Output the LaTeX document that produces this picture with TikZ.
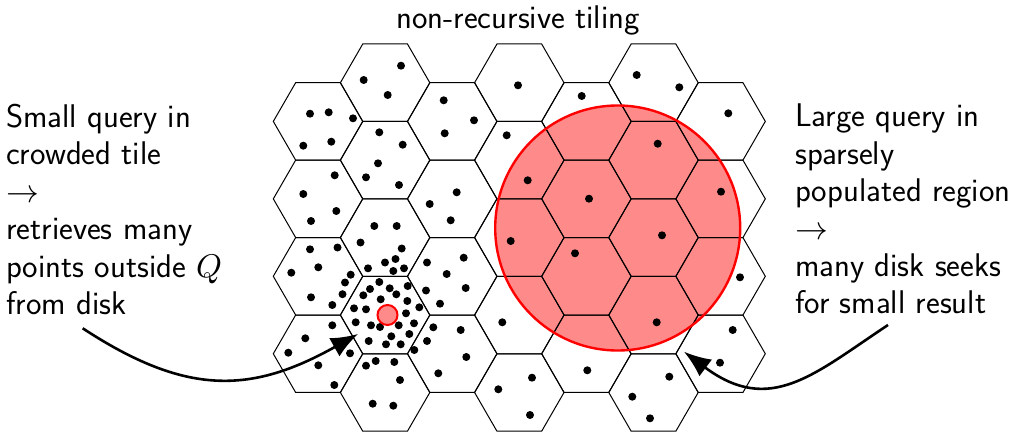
\RequirePackage{fix-cm}
\documentclass[tikz,border=0pt]{standalone}
\usetikzlibrary{arrows.meta}
\DeclareFontFamily{OT1}{cmss}{\hyphenchar\font45 }
\DeclareFontShape{OT1}{cmss}{m}{n}{<->cmss10}{}
\DeclareFontShape{OML}{cmm}{m}{it}{<->cmmi10}{}
\DeclareFontShape{OMS}{cmsy}{m}{n}{<->cmsy10}{}
\definecolor{qpink}{RGB}{255,138,138}
\begin{document}
\begin{tikzpicture}[x=1pt,y=-1pt,
  hexline/.style={line width=1pt,black},
  pt/.style={fill=black},
  lbl/.style={font=\fontsize{32.8}{37.4}\selectfont\sffamily,inner sep=0pt},
  callout/.style={line width=2.6pt,-{Latex[length=27pt,width=21pt]}},
  qborder/.style={draw=red,line width=2.4pt}]
\useasboundingbox (0,0) rectangle (1017,433);
% big query disk (fill)
\fill[qpink] (617.7,228) circle[radius=122.5];
% hexagonal tiling
\foreach \c in {0,...,6}{
  \pgfmathsetmacro{\cx}{318+67.1*\c}
  \ifodd\c
    \foreach \r in {0,...,4}{
      \pgfmathsetmacro{\cy}{82.7+77.45*\r}
      \draw[hexline] (\cx,\cy) +(0:44.7) -- +(60:44.7) -- +(120:44.7) -- +(180:44.7) -- +(240:44.7) -- +(300:44.7) -- cycle;
    }
  \else
    \foreach \r in {0,...,3}{
      \pgfmathsetmacro{\cy}{121.4+77.45*\r}
      \draw[hexline] (\cx,\cy) +(0:44.7) -- +(60:44.7) -- +(120:44.7) -- +(180:44.7) -- +(240:44.7) -- +(300:44.7) -- cycle;
    }
  \fi
}
% points
\foreach \p in {
 (310,113.7),(328.7,112.3),(353,118.3),(303.3,145.7),(331.3,141.7),
 (401,65.7),(363.7,80),(387.7,95),
 (379.3,132.3),(402.7,144.7),(378,163.3),(366,177.3),(399,185),
 (443.7,100.3),(474,120.3),(444.7,133.3),
 (334.7,175.3),(303.3,194),(336.3,211),(311,221),
 (456.7,192.3),(429.7,204),(450.7,220.3),
 (374.3,226),(396.7,226),(360.5,242.5),(401.7,248.5),(385,262.5),(395.5,259),(368,268.3),(393.3,271),(404,268.3),
 (337.5,247.5),(310,249.3),(291.3,272.7),(318.3,267.3),(350.7,274.7),(345,282.5),(342.5,294.2),(311,297.3),(332.3,305),
 (379.3,282),(370,289),(389.7,288.3),(396.3,294.3),(407.7,286),(363.3,295.3),(380.7,299.3),(407.3,301),(419.3,307.3),
 (354,308.3),(366,309.3),(384,310),(406,313.3),(355.7,322.3),(371,325.3),(380,327),(398.7,325.3),(414,323.3),
 (409.3,334),(391.3,336.3),(368.7,341),(386,344.3),(400.7,344.3),(414.3,350),
 (427,262.5),(463.7,257.7),(446.7,274),(465.7,288),(426,290.5),(440,303.7),
 (433.3,327.3),(460.7,330),(427,341),(466.3,357),(438.3,373.3),
 (332.3,325.3),(305.3,338.3),(288.3,352.7),(350,353.3),(318.3,365.3),(334.3,385),
 (366,365.7),(375.7,361),(394.3,362),(400,380),(372.7,403.7),(393.3,405.7),
 (518,85.3),(506.7,135.3),(527.7,180.3),(510.7,241),(502.3,322.3),(532,377.7),(498.3,389.3),(530,415),
 (581.7,96),(589,198.7),(575,253.3),(587.3,370.3),
 (636.7,75),(679.3,87.3),(657.7,143.7),(662,235.3),(656.7,322.3),(669.3,376.7),(632.3,396.7),(650,418.3),
 (728.3,113.3),(721,191.7),(740,277.3),(732.7,330),(720,362.7)}
  \fill[pt] \p circle[radius=4];
% big query disk (border)
\draw[qborder] (617.7,228) circle[radius=122.5];
% small query disk
\draw[qborder,fill=qpink,line width=2pt] (387.5,315) circle[radius=10];
% labels
\node[lbl,anchor=base] (title) at (518,29) {non-recursive tiling};
\node[lbl,anchor=north west,align=left] (left) at (6,104) {Small query in\\crowded tile\\$\rightarrow$\\retrieves many\\points outside $Q$\\from disk};
\node[lbl,anchor=north west,align=left] (right) at (795,104) {Large query in\\sparsely\\populated region\\$\rightarrow$\\many disk seeks\\for small result};
% callout arrows
\coordinate (ls) at (82.7,328.3);
\coordinate (lt) at (358,334);
\coordinate (rs) at (888,325);
\coordinate (rt) at (684,351.7);
\draw[callout] (ls) .. controls (186,396) and (251,394) .. (lt);
\draw[callout] (rs) .. controls (814,374) and (770,416) .. (rt);
\end{tikzpicture}
\end{document}
